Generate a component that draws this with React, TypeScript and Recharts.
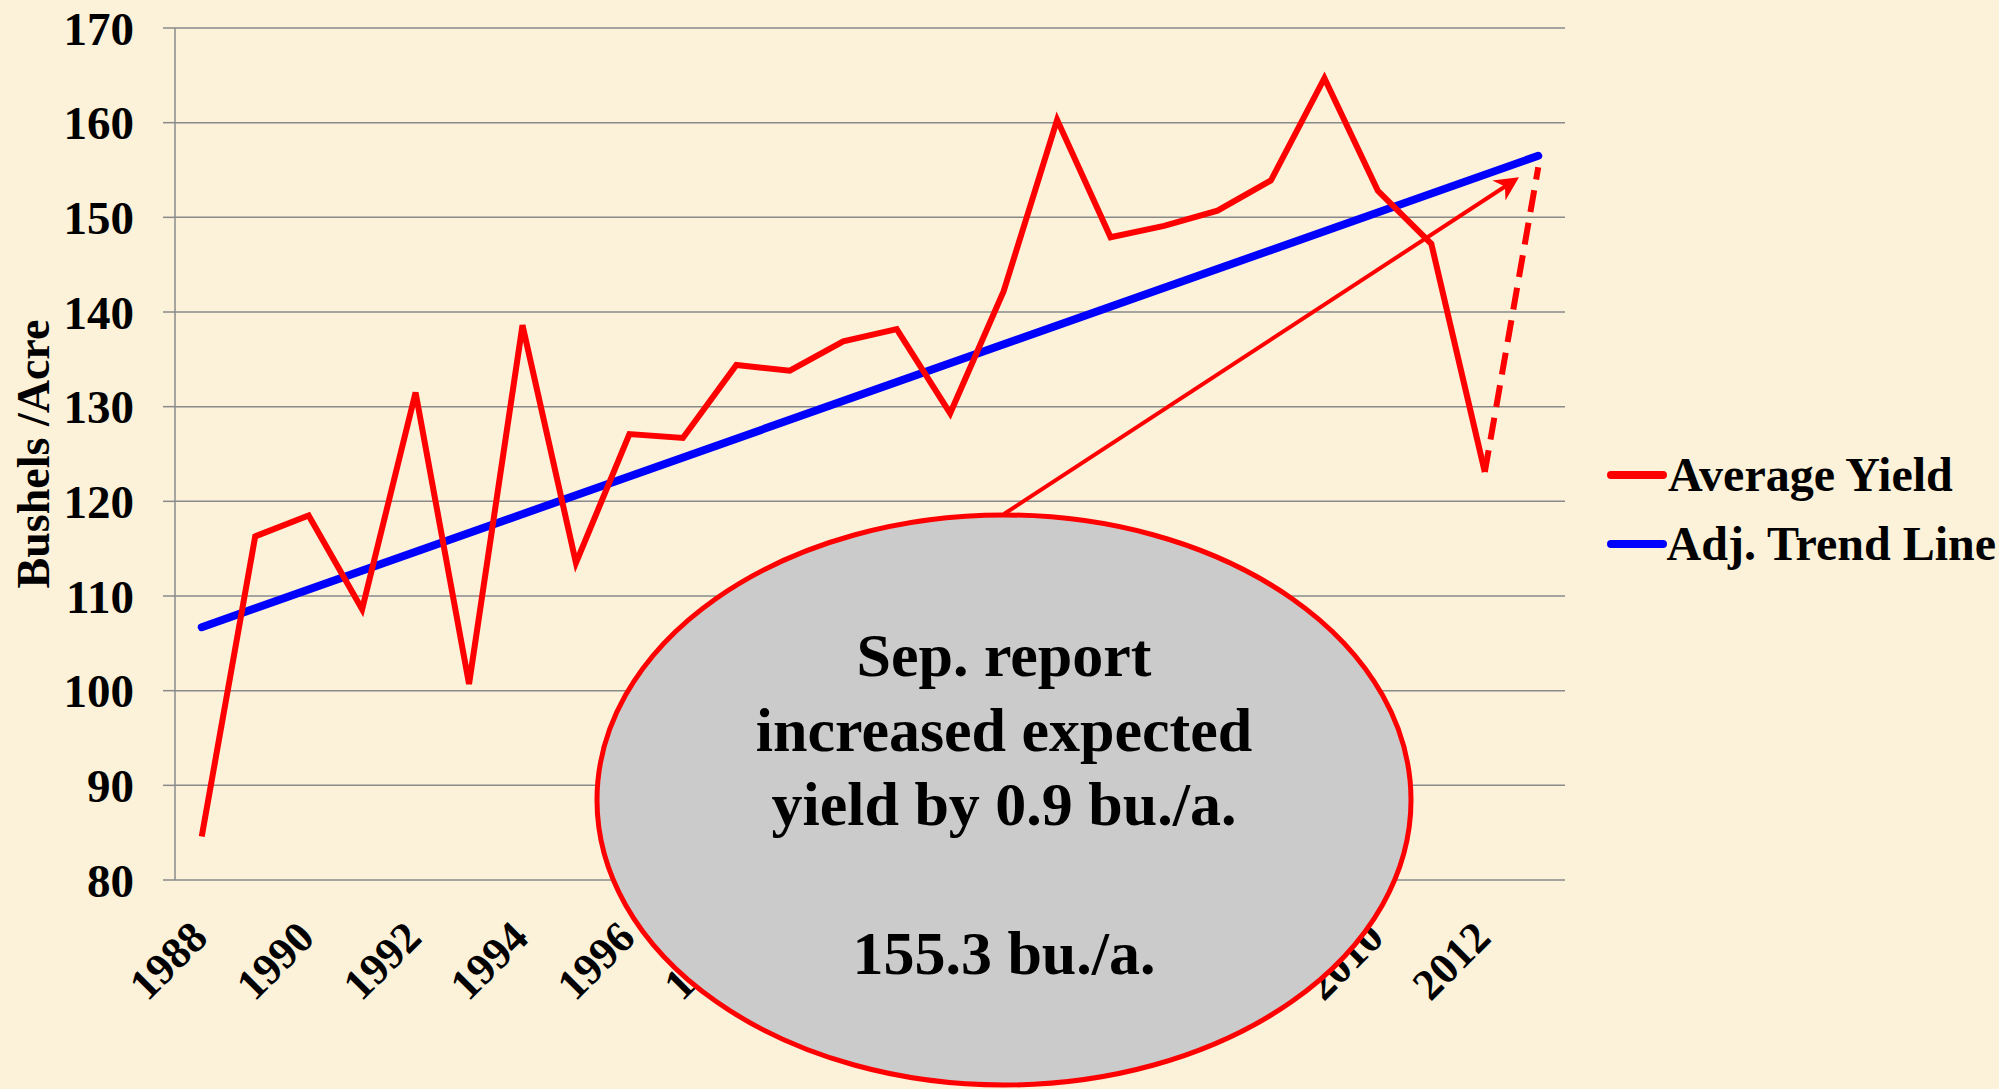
import { LineChart, Line, XAxis, YAxis, CartesianGrid, Legend, Label } from 'recharts';

const years = [
  1988, 1989, 1990, 1991, 1992, 1993, 1994, 1995, 1996, 1997, 1998, 1999, 2000,
  2001, 2002, 2003, 2004, 2005, 2006, 2007, 2008, 2009, 2010, 2011, 2012, 2013,
];
const labelYears = [1988, 1990, 1992, 1994, 1996, 1998, 2000, 2002, 2004, 2006, 2008, 2010, 2012];
const avgYield = [
  84.6, 116.3, 118.5, 108.6, 131.5, 100.7, 138.6, 113.5, 127.1, 126.7, 134.4, 133.8, 136.9,
  138.2, 129.3, 142.2, 160.3, 147.9, 149.1, 150.7, 153.9, 164.7, 152.8, 147.2, 123.1, null,
];
// Sep. report forecast for 2013, drawn dashed from the 2012 value
const sepForecast = [
  null, null, null, null, null, null, null, null, null, null, null, null, null,
  null, null, null, null, null, null, null, null, null, null, null, 123.1, 155.3,
];
// adjusted trend line: only its two ends are read, the line joins them
const trendLine = [
  106.7, null, null, null, null, null, null, null, null, null, null, null, null,
  null, null, null, null, null, null, null, null, null, null, null, null, 156.5,
];
const yTicks = [80, 90, 100, 110, 120, 130, 140, 150, 160, 170];
const legendOrder = ['Average Yield', 'Adj. Trend Line'];

const data = years.map((year, i) => ({
  year,
  avg: avgYield[i],
  fc: sepForecast[i],
  trend: trendLine[i],
}));
const bounds = [...years.map((y) => y - 0.5), years[years.length - 1] + 0.5];
const domain = [bounds[0], bounds[bounds.length - 1]];

const FONT = '"Liberation Serif", "Times New Roman", serif';
const GRID = '#8a8a8a';

function YearTick({ x, y, payload }: any) {
  const ax = x + 8;
  const ay = y + 60;
  return (
    <text
      x={ax}
      y={ay}
      transform={`rotate(-45 ${ax} ${ay})`}
      textAnchor="end"
      fontFamily={FONT}
      fontWeight="bold"
      fontSize={44}
      fill="#000"
    >
      {payload.value}
    </text>
  );
}

function LegendBox({ payload }: any) {
  const items = legendOrder
    .map((name) => (payload || []).find((p: any) => p.value === name))
    .filter(Boolean);
  return (
    <div>
      {items.map((p: any) => (
        <div key={p.value} style={{ display: 'flex', alignItems: 'center', height: 69 }}>
          <svg width={62} height={12}>
            <line x1={5} y1={6} x2={57} y2={6} stroke={p.color} strokeWidth={8} strokeLinecap="round" />
          </svg>
          <span style={{ fontFamily: FONT, fontWeight: 'bold', fontSize: 48, color: '#000', whiteSpace: 'nowrap' }}>
            {p.value}
          </span>
        </div>
      ))}
    </div>
  );
}

export default function App() {
  return (
    <div style={{ position: 'absolute', left: 0, top: 0, width: 1999, height: 1089, background: '#fcf1d9' }}>
      <LineChart width={1999} height={1089} data={data} margin={{ top: 28, right: 434, bottom: 59, left: 0 }}>
        <CartesianGrid vertical={false} stroke={GRID} strokeWidth={1.5} xAxisId="years" />
        <XAxis
          xAxisId="marks"
          dataKey="year"
          type="number"
          domain={domain}
          ticks={bounds}
          allowDataOverflow
          height={0}
          tick={false}
          tickSize={12}
          stroke={GRID}
          strokeWidth={1.5}
        />
        <XAxis
          xAxisId="years"
          dataKey="year"
          type="number"
          domain={domain}
          ticks={labelYears}
          interval={0}
          allowDataOverflow
          height={150}
          tickLine={false}
          axisLine={false}
          tickSize={0}
          tickMargin={0}
          tick={<YearTick />}
        />
        <YAxis
          domain={[80, 170]}
          ticks={yTicks}
          width={175}
          tickSize={12}
          tickMargin={29}
          stroke={GRID}
          strokeWidth={1.5}
          tick={{ fontFamily: FONT, fontWeight: 'bold', fontSize: 47, fill: '#000' }}
        >
          <Label
            content={({ viewBox }: any) => (
              <text
                transform={`translate(${viewBox.x + 33} ${viewBox.y + viewBox.height / 2}) rotate(-90)`}
                textAnchor="middle"
                dominantBaseline="central"
                fontFamily={FONT}
                fontWeight="bold"
                fontSize={46}
                fill="#000"
              >
                Bushels /Acre
              </text>
            )}
          />
        </YAxis>
        <Legend
          layout="horizontal"
          verticalAlign="middle"
          align="center"
          content={<LegendBox />}
          wrapperStyle={{ left: 1606, top: 440, width: 390 }}
        />
        <Line
          xAxisId="years"
          dataKey="trend"
          name="Adj. Trend Line"
          stroke="#0000ff"
          strokeWidth={8}
          strokeLinecap="round"
          dot={false}
          connectNulls
          isAnimationActive={false}
        />
        <Line
          xAxisId="years"
          dataKey="fc"
          name="Sep. forecast"
          stroke="#ff0000"
          strokeWidth={6}
          strokeDasharray="22 11"
          dot={false}
          legendType="none"
          isAnimationActive={false}
        />
        <Line
          xAxisId="years"
          dataKey="avg"
          name="Average Yield"
          stroke="#ff0000"
          strokeWidth={6}
          dot={false}
          isAnimationActive={false}
        />
      </LineChart>
      <svg
        width={1999}
        height={1089}
        style={{ position: 'absolute', left: 0, top: 0, pointerEvents: 'none' }}
      >
        <defs>
          <marker id="head" viewBox="0 0 10 10" refX="8" refY="5" markerWidth="6" markerHeight="6" orient="auto">
            <path d="M0,0 L10,5 L0,10 L3,5 z" fill="#ff0000" />
          </marker>
        </defs>
        <line x1={1004} y1={514} x2={1515} y2={180} stroke="#ff0000" strokeWidth={4} markerEnd="url(#head)" />
        <ellipse cx={1004} cy={800} rx={407} ry={285} fill="#cbcbcb" stroke="#ff0000" strokeWidth={5} />
        <g fontFamily={FONT} fontWeight="bold" fontSize={62} fill="#000" textAnchor="middle">
          <text x={1004} y={654} dy="0.35em">Sep. report</text>
          <text x={1004} y={729} dy="0.35em">increased expected</text>
          <text x={1004} y={803} dy="0.35em">yield by 0.9 bu./a.</text>
          <text x={1004} y={952} dy="0.35em">155.3 bu./a.</text>
        </g>
      </svg>
    </div>
  );
}
